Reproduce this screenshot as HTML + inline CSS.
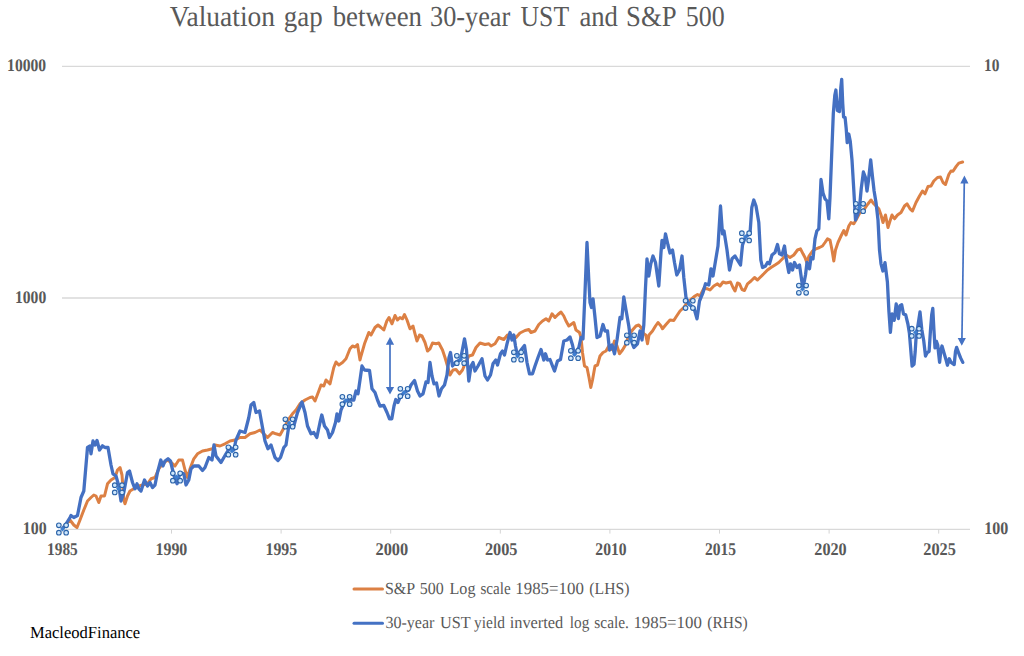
<!DOCTYPE html>
<html><head><meta charset="utf-8"><title>Valuation gap between 30-year UST and S&amp;P 500</title>
<style>
html,body{margin:0;padding:0;background:#fff;}
body{width:1024px;height:656px;overflow:hidden;font-family:"Liberation Serif",serif;}
svg{display:block;}
</style></head><body>
<svg width="1024" height="656" viewBox="0 0 1024 656" font-family="'Liberation Serif', serif">
<rect width="1024" height="656" fill="#fff"/>
<line x1="62" x2="970" y1="66.4" y2="66.4" stroke="#d9d9d9" stroke-width="1.3"/>
<line x1="62" x2="970" y1="298" y2="298" stroke="#d9d9d9" stroke-width="1.3"/>
<line x1="62" x2="970" y1="529.3" y2="529.3" stroke="#d9d9d9" stroke-width="1.3"/>
<line x1="61.9" x2="61.9" y1="529.3" y2="533.6" stroke="#d4d4d4" stroke-width="1"/>
<line x1="171.5" x2="171.5" y1="529.3" y2="533.6" stroke="#d4d4d4" stroke-width="1"/>
<line x1="281.1" x2="281.1" y1="529.3" y2="533.6" stroke="#d4d4d4" stroke-width="1"/>
<line x1="390.7" x2="390.7" y1="529.3" y2="533.6" stroke="#d4d4d4" stroke-width="1"/>
<line x1="500.3" x2="500.3" y1="529.3" y2="533.6" stroke="#d4d4d4" stroke-width="1"/>
<line x1="609.9" x2="609.9" y1="529.3" y2="533.6" stroke="#d4d4d4" stroke-width="1"/>
<line x1="719.5" x2="719.5" y1="529.3" y2="533.6" stroke="#d4d4d4" stroke-width="1"/>
<line x1="829.1" x2="829.1" y1="529.3" y2="533.6" stroke="#d4d4d4" stroke-width="1"/>
<line x1="938.7" x2="938.7" y1="529.3" y2="533.6" stroke="#d4d4d4" stroke-width="1"/>
<path d="M63.0,528.0 L66.0,524.0 L70.0,520.0 L73.8,525.0 L77.0,527.5 L80.0,520.0 L83.8,510.0 L87.5,501.0 L91.0,497.5 L93.8,495.0 L96.0,496.0 L98.8,502.5 L101.0,496.0 L104.5,496.0 L107.5,483.8 L111.0,480.0 L115.0,477.5 L117.5,470.0 L120.0,467.5 L122.0,475.0 L123.8,500.0 L125.0,503.8 L127.5,496.0 L130.0,491.0 L133.8,488.8 L138.8,486.0 L142.5,485.0 L147.5,483.8 L151.0,478.8 L155.0,477.5 L158.8,468.8 L162.5,463.8 L167.5,460.0 L171.0,462.5 L175.0,466.0 L178.8,460.0 L182.5,460.0 L185.0,470.0 L187.5,477.5 L190.0,468.8 L193.8,458.8 L197.5,453.8 L202.5,451.0 L207.5,450.0 L212.5,448.8 L215.0,445.0 L220.0,446.0 L225.0,443.8 L230.0,441.0 L235.0,440.0 L240.0,437.5 L245.0,437.5 L250.0,433.8 L255.0,432.5 L260.0,430.0 L265.0,435.0 L267.5,437.5 L270.0,435.0 L272.5,432.5 L276.0,433.8 L280.0,435.0 L285.0,426.0 L288.8,418.8 L292.5,413.8 L296.0,410.0 L300.0,403.8 L305.0,400.0 L310.0,397.5 L312.5,397.0 L315.0,401.0 L318.8,391.0 L321.0,385.0 L323.8,386.0 L326.0,380.0 L330.0,383.8 L333.8,367.5 L336.0,362.0 L338.8,365.0 L342.5,362.5 L346.0,358.8 L350.0,348.8 L352.5,346.0 L355.0,347.0 L357.5,344.5 L360.0,360.0 L361.0,356.0 L364.5,343.8 L368.8,332.5 L371.0,335.0 L375.0,327.5 L378.0,325.0 L381.0,327.5 L383.8,330.0 L386.8,321.0 L389.0,317.5 L392.0,323.8 L395.0,315.5 L397.5,320.0 L400.0,317.5 L402.5,318.8 L404.5,314.5 L407.0,320.0 L410.0,328.8 L413.0,326.0 L415.0,333.8 L417.0,341.0 L419.5,335.0 L422.0,336.0 L425.0,342.5 L427.5,351.0 L430.0,348.8 L432.5,343.0 L436.0,343.8 L438.8,343.0 L442.5,350.0 L445.0,357.5 L447.5,366.0 L450.0,375.0 L453.0,370.0 L456.0,369.5 L459.5,373.8 L462.5,370.0 L465.0,363.8 L468.8,356.0 L472.5,355.0 L476.0,347.5 L480.0,343.0 L485.0,344.5 L488.8,343.8 L491.0,346.0 L495.0,343.8 L498.8,337.5 L503.8,339.5 L507.5,335.0 L512.5,336.0 L516.0,337.5 L520.0,333.0 L525.0,330.5 L528.8,329.5 L531.0,332.5 L535.0,331.0 L538.8,324.5 L542.5,321.0 L546.0,318.8 L548.8,321.0 L552.0,313.8 L555.0,317.5 L558.0,314.5 L561.0,312.0 L563.8,316.0 L566.0,321.0 L568.8,326.0 L571.0,324.5 L573.8,322.5 L576.0,330.0 L579.5,332.5 L581.0,337.5 L582.5,352.5 L584.5,366.0 L587.0,367.5 L589.0,377.5 L590.8,387.5 L592.5,380.0 L595.0,366.0 L597.5,365.0 L600.0,356.0 L603.0,352.5 L606.0,351.0 L608.8,346.0 L612.0,349.5 L614.5,341.0 L617.0,346.0 L619.5,353.8 L622.5,350.0 L625.5,345.0 L628.8,335.0 L632.5,330.0 L636.0,326.0 L638.8,325.0 L641.0,327.5 L643.8,333.8 L645.8,335.0 L647.5,343.8 L649.0,335.0 L652.5,331.0 L655.5,326.0 L658.0,322.5 L661.0,326.0 L662.5,328.8 L666.0,324.5 L670.0,320.0 L673.8,320.5 L676.0,317.0 L680.0,311.0 L683.8,307.5 L687.5,302.5 L691.0,299.5 L695.0,296.0 L697.5,294.5 L700.0,296.0 L703.8,288.5 L707.5,288.8 L710.0,290.0 L713.8,286.0 L717.5,283.8 L720.0,286.0 L723.0,282.0 L726.0,283.0 L730.5,282.0 L733.0,287.5 L735.0,291.0 L737.5,283.0 L739.5,283.8 L742.0,289.5 L744.5,290.5 L747.5,283.8 L751.0,281.0 L754.5,277.5 L757.5,280.0 L760.0,277.5 L763.8,273.8 L767.5,270.0 L771.0,267.5 L775.0,265.0 L778.8,262.5 L782.5,258.8 L786.0,255.0 L790.0,257.5 L793.8,255.0 L797.5,250.0 L800.5,248.8 L803.0,253.8 L805.0,257.5 L806.8,262.5 L809.0,256.0 L812.5,251.0 L816.0,248.8 L819.5,247.5 L822.5,246.0 L825.0,242.5 L827.5,238.8 L830.0,240.0 L832.0,250.0 L833.8,261.0 L835.5,250.0 L838.0,242.5 L841.0,236.0 L843.8,230.5 L846.0,235.0 L848.8,226.0 L851.0,222.5 L853.8,223.8 L856.0,220.0 L860.0,212.5 L863.8,210.0 L867.5,204.5 L871.0,200.0 L873.8,203.8 L876.0,206.0 L878.8,208.8 L881.0,215.0 L883.0,222.5 L885.5,215.0 L888.0,227.5 L890.0,221.0 L892.0,215.0 L894.5,218.8 L897.5,215.0 L901.0,212.5 L904.5,206.0 L907.0,203.8 L910.0,208.8 L912.5,211.0 L916.0,202.5 L919.5,196.0 L922.5,191.0 L925.0,193.8 L928.0,186.5 L931.0,186.0 L933.8,181.0 L937.5,177.5 L940.5,177.0 L943.0,182.5 L945.5,184.5 L948.8,174.5 L951.0,171.0 L953.0,171.3 L956.2,166.4 L958.8,163.1 L962.6,162.0" fill="none" stroke="#dc8044" stroke-width="3.0" stroke-linejoin="round" stroke-linecap="round"/>
<path d="M62.5,528.8 L66.0,524.0 L70.0,517.5 L71.0,515.5 L73.8,517.5 L77.5,515.5 L81.0,497.5 L83.8,491.0 L87.5,447.5 L90.0,446.0 L91.0,453.8 L93.0,441.0 L95.0,445.0 L97.0,440.5 L99.5,450.0 L102.5,445.8 L105.0,447.5 L108.0,447.5 L111.0,465.0 L113.0,473.8 L116.0,476.0 L118.8,486.0 L121.0,501.0 L123.8,492.5 L127.5,472.5 L129.5,471.0 L132.5,482.5 L135.0,488.8 L137.0,483.8 L138.8,488.8 L141.0,491.0 L144.5,480.0 L147.5,486.0 L150.0,482.5 L152.5,487.5 L155.0,485.0 L157.5,472.5 L160.8,460.0 L163.0,466.0 L165.0,461.0 L168.0,458.8 L170.5,461.0 L173.8,475.0 L177.0,483.8 L180.0,472.5 L183.8,473.8 L186.0,485.0 L188.8,480.0 L191.0,468.8 L193.8,466.0 L198.8,466.0 L202.5,470.5 L205.0,467.5 L208.8,457.5 L212.0,460.0 L214.0,445.0 L216.0,456.0 L221.0,462.5 L226.0,453.8 L230.0,447.5 L233.8,450.0 L236.0,440.0 L240.0,431.0 L245.0,432.5 L248.8,417.5 L251.0,405.0 L253.8,402.5 L256.0,412.5 L259.5,411.0 L262.5,427.5 L265.0,441.0 L268.0,448.8 L271.0,445.0 L275.0,457.5 L278.0,460.5 L280.5,457.5 L283.8,447.5 L286.0,445.0 L288.8,426.0 L293.8,426.0 L297.5,412.5 L302.0,402.0 L305.0,412.5 L307.5,426.0 L311.0,433.8 L313.8,432.5 L316.8,437.5 L320.0,422.5 L321.8,415.0 L324.5,426.0 L327.5,430.0 L329.5,437.5 L332.5,432.5 L335.5,422.5 L337.0,413.8 L338.8,421.0 L341.0,410.0 L345.0,401.0 L350.0,400.0 L353.8,400.0 L356.0,391.0 L358.0,393.8 L360.0,380.0 L362.0,366.0 L364.5,370.0 L369.5,370.5 L372.0,388.8 L375.0,392.5 L377.5,400.0 L380.0,406.0 L383.8,405.5 L387.0,412.5 L389.5,418.8 L391.8,418.8 L394.0,406.0 L395.8,399.5 L398.0,402.5 L400.0,397.5 L404.0,392.5 L408.8,390.0 L411.0,385.0 L414.5,380.5 L417.5,391.0 L420.0,396.0 L423.0,393.8 L426.0,382.0 L428.0,382.5 L430.0,362.5 L432.0,376.0 L434.0,383.8 L436.5,383.0 L439.0,396.0 L441.5,388.8 L444.5,385.0 L447.0,375.0 L449.0,357.5 L450.5,352.5 L452.5,366.0 L455.5,362.5 L460.5,359.5 L464.5,338.8 L466.5,350.0 L468.8,381.0 L471.0,366.0 L473.0,362.5 L475.0,371.0 L478.0,366.0 L482.0,358.8 L485.0,376.0 L487.5,380.0 L490.5,375.0 L493.0,363.8 L495.8,360.0 L497.5,365.0 L500.5,353.8 L502.5,351.0 L504.5,355.0 L507.0,343.8 L510.0,332.5 L512.0,340.0 L513.8,335.0 L515.5,346.0 L517.5,356.0 L521.0,350.0 L524.5,345.5 L527.0,362.5 L529.5,373.8 L532.5,373.8 L535.0,366.0 L538.0,357.5 L541.0,349.5 L543.8,360.0 L545.5,353.8 L547.5,360.0 L550.0,359.5 L552.5,366.0 L554.5,371.0 L557.5,361.0 L560.5,359.5 L563.8,341.0 L567.0,340.0 L570.0,337.0 L572.5,345.0 L574.5,354.5 L578.8,347.5 L581.0,337.5 L583.0,338.8 L585.0,292.5 L587.0,242.5 L588.8,280.0 L590.0,302.5 L591.5,307.5 L593.0,298.8 L595.0,317.5 L597.0,337.5 L600.0,336.0 L603.0,324.5 L605.0,331.0 L607.5,331.0 L609.5,350.0 L612.0,345.0 L614.5,353.8 L617.0,340.0 L620.0,317.5 L621.8,318.8 L623.8,297.0 L626.0,310.0 L628.8,326.0 L630.5,339.0 L633.8,347.5 L637.5,343.8 L640.0,331.0 L642.0,340.0 L643.8,325.0 L645.5,287.5 L647.0,258.8 L648.8,276.0 L650.8,263.8 L653.0,256.0 L655.5,262.5 L658.8,286.0 L661.0,252.5 L662.0,240.5 L663.8,247.5 L665.5,233.8 L668.0,245.0 L670.0,253.0 L672.5,250.0 L674.5,262.5 L676.8,275.0 L679.5,270.0 L682.0,256.0 L683.8,277.5 L686.0,297.5 L689.2,304.4 L693.8,307.5 L697.0,318.8 L699.5,301.0 L703.0,292.5 L705.5,283.8 L708.8,285.0 L711.0,268.8 L713.0,276.0 L715.5,261.0 L718.0,246.0 L720.5,206.0 L722.5,233.8 L724.0,231.0 L727.0,250.0 L729.5,270.0 L732.0,258.8 L735.0,256.0 L738.0,261.0 L740.5,265.0 L742.5,245.0 L745.5,236.8 L750.0,233.8 L751.8,207.5 L753.8,200.0 L756.0,206.0 L758.8,222.5 L760.8,260.0 L762.5,267.5 L765.5,266.0 L767.5,262.5 L769.5,263.8 L772.0,255.0 L775.0,252.5 L777.5,244.5 L779.5,253.8 L782.0,255.0 L784.5,246.0 L786.0,257.5 L788.8,272.5 L790.5,263.8 L792.5,270.0 L794.5,262.5 L797.0,267.5 L799.5,265.0 L802.0,282.5 L803.0,288.0 L805.5,275.0 L807.0,262.5 L809.5,268.8 L811.0,257.5 L813.0,258.8 L815.0,238.8 L816.8,231.0 L818.8,228.8 L820.0,202.5 L821.0,179.5 L823.0,193.0 L825.0,198.8 L827.0,201.0 L828.8,218.8 L830.0,197.5 L831.6,156.7 L833.3,113.7 L834.8,95.4 L835.9,90.0 L837.4,110.5 L839.5,111.6 L840.8,88.0 L841.7,79.3 L842.7,103.0 L843.6,117.0 L845.1,117.6 L846.2,128.7 L847.2,142.7 L848.8,134.0 L850.3,141.6 L852.0,160.0 L853.8,190.0 L855.5,220.0 L857.5,215.0 L859.5,207.5 L861.2,189.0 L863.4,172.0 L865.3,177.0 L867.0,191.0 L868.5,180.3 L870.7,160.0 L872.4,176.0 L874.1,191.0 L876.0,202.5 L878.0,220.0 L879.5,250.0 L881.0,263.8 L882.9,271.0 L885.0,262.7 L887.4,282.0 L888.9,311.2 L890.4,332.3 L892.0,314.0 L894.2,320.4 L896.2,303.9 L898.4,318.5 L899.9,305.7 L901.7,304.8 L903.5,314.0 L905.7,314.9 L907.9,324.0 L909.4,333.2 L910.9,351.5 L912.1,366.0 L914.0,364.3 L915.2,351.5 L916.4,332.3 L917.6,327.7 L920.0,312.0 L921.8,329.5 L923.7,340.5 L925.5,356.0 L927.3,352.4 L929.1,351.5 L930.4,331.3 L931.7,314.9 L932.8,308.5 L933.9,329.5 L935.0,347.8 L936.5,341.4 L937.7,345.0 L939.6,362.4 L941.0,349.6 L942.0,346.0 L944.1,353.3 L946.0,359.7 L947.4,365.2 L949.3,358.8 L951.1,362.4 L954.2,364.6 L955.5,351.5 L956.6,347.4 L958.8,353.3 L960.6,357.9 L962.8,362.4" fill="none" stroke="#4470c2" stroke-width="3.3" stroke-linejoin="round" stroke-linecap="round"/>
<g transform="translate(62.5,529.0)"><path d="M0,-2.4 L2.4,0 L0,2.4 L-2.4,0z" fill="#3d7fd0"/><circle cx="-3.65" cy="-3.65" r="2.3" fill="#cfe7fc" stroke="#2c64aa" stroke-width="1.1"/><circle cx="3.65" cy="-3.65" r="2.3" fill="#cfe7fc" stroke="#2c64aa" stroke-width="1.1"/><circle cx="-3.65" cy="3.65" r="2.3" fill="#cfe7fc" stroke="#2c64aa" stroke-width="1.1"/><circle cx="3.65" cy="3.65" r="2.3" fill="#cfe7fc" stroke="#2c64aa" stroke-width="1.1"/></g>
<g transform="translate(118.4,488.8)"><path d="M0,-2.4 L2.4,0 L0,2.4 L-2.4,0z" fill="#3d7fd0"/><circle cx="-3.65" cy="-3.65" r="2.3" fill="#cfe7fc" stroke="#2c64aa" stroke-width="1.1"/><circle cx="3.65" cy="-3.65" r="2.3" fill="#cfe7fc" stroke="#2c64aa" stroke-width="1.1"/><circle cx="-3.65" cy="3.65" r="2.3" fill="#cfe7fc" stroke="#2c64aa" stroke-width="1.1"/><circle cx="3.65" cy="3.65" r="2.3" fill="#cfe7fc" stroke="#2c64aa" stroke-width="1.1"/></g>
<g transform="translate(176.5,477.0)"><path d="M0,-2.4 L2.4,0 L0,2.4 L-2.4,0z" fill="#3d7fd0"/><circle cx="-3.65" cy="-3.65" r="2.3" fill="#cfe7fc" stroke="#2c64aa" stroke-width="1.1"/><circle cx="3.65" cy="-3.65" r="2.3" fill="#cfe7fc" stroke="#2c64aa" stroke-width="1.1"/><circle cx="-3.65" cy="3.65" r="2.3" fill="#cfe7fc" stroke="#2c64aa" stroke-width="1.1"/><circle cx="3.65" cy="3.65" r="2.3" fill="#cfe7fc" stroke="#2c64aa" stroke-width="1.1"/></g>
<g transform="translate(232.0,451.0)"><path d="M0,-2.4 L2.4,0 L0,2.4 L-2.4,0z" fill="#3d7fd0"/><circle cx="-3.65" cy="-3.65" r="2.3" fill="#cfe7fc" stroke="#2c64aa" stroke-width="1.1"/><circle cx="3.65" cy="-3.65" r="2.3" fill="#cfe7fc" stroke="#2c64aa" stroke-width="1.1"/><circle cx="-3.65" cy="3.65" r="2.3" fill="#cfe7fc" stroke="#2c64aa" stroke-width="1.1"/><circle cx="3.65" cy="3.65" r="2.3" fill="#cfe7fc" stroke="#2c64aa" stroke-width="1.1"/></g>
<g transform="translate(289.0,423.0)"><path d="M0,-2.4 L2.4,0 L0,2.4 L-2.4,0z" fill="#3d7fd0"/><circle cx="-3.65" cy="-3.65" r="2.3" fill="#cfe7fc" stroke="#2c64aa" stroke-width="1.1"/><circle cx="3.65" cy="-3.65" r="2.3" fill="#cfe7fc" stroke="#2c64aa" stroke-width="1.1"/><circle cx="-3.65" cy="3.65" r="2.3" fill="#cfe7fc" stroke="#2c64aa" stroke-width="1.1"/><circle cx="3.65" cy="3.65" r="2.3" fill="#cfe7fc" stroke="#2c64aa" stroke-width="1.1"/></g>
<g transform="translate(346.0,400.5)"><path d="M0,-2.4 L2.4,0 L0,2.4 L-2.4,0z" fill="#3d7fd0"/><circle cx="-3.65" cy="-3.65" r="2.3" fill="#cfe7fc" stroke="#2c64aa" stroke-width="1.1"/><circle cx="3.65" cy="-3.65" r="2.3" fill="#cfe7fc" stroke="#2c64aa" stroke-width="1.1"/><circle cx="-3.65" cy="3.65" r="2.3" fill="#cfe7fc" stroke="#2c64aa" stroke-width="1.1"/><circle cx="3.65" cy="3.65" r="2.3" fill="#cfe7fc" stroke="#2c64aa" stroke-width="1.1"/></g>
<g transform="translate(404.0,392.5)"><path d="M0,-2.4 L2.4,0 L0,2.4 L-2.4,0z" fill="#3d7fd0"/><circle cx="-3.65" cy="-3.65" r="2.3" fill="#cfe7fc" stroke="#2c64aa" stroke-width="1.1"/><circle cx="3.65" cy="-3.65" r="2.3" fill="#cfe7fc" stroke="#2c64aa" stroke-width="1.1"/><circle cx="-3.65" cy="3.65" r="2.3" fill="#cfe7fc" stroke="#2c64aa" stroke-width="1.1"/><circle cx="3.65" cy="3.65" r="2.3" fill="#cfe7fc" stroke="#2c64aa" stroke-width="1.1"/></g>
<g transform="translate(460.5,359.5)"><path d="M0,-2.4 L2.4,0 L0,2.4 L-2.4,0z" fill="#3d7fd0"/><circle cx="-3.65" cy="-3.65" r="2.3" fill="#cfe7fc" stroke="#2c64aa" stroke-width="1.1"/><circle cx="3.65" cy="-3.65" r="2.3" fill="#cfe7fc" stroke="#2c64aa" stroke-width="1.1"/><circle cx="-3.65" cy="3.65" r="2.3" fill="#cfe7fc" stroke="#2c64aa" stroke-width="1.1"/><circle cx="3.65" cy="3.65" r="2.3" fill="#cfe7fc" stroke="#2c64aa" stroke-width="1.1"/></g>
<g transform="translate(517.5,356.0)"><path d="M0,-2.4 L2.4,0 L0,2.4 L-2.4,0z" fill="#3d7fd0"/><circle cx="-3.65" cy="-3.65" r="2.3" fill="#cfe7fc" stroke="#2c64aa" stroke-width="1.1"/><circle cx="3.65" cy="-3.65" r="2.3" fill="#cfe7fc" stroke="#2c64aa" stroke-width="1.1"/><circle cx="-3.65" cy="3.65" r="2.3" fill="#cfe7fc" stroke="#2c64aa" stroke-width="1.1"/><circle cx="3.65" cy="3.65" r="2.3" fill="#cfe7fc" stroke="#2c64aa" stroke-width="1.1"/></g>
<g transform="translate(574.5,354.5)"><path d="M0,-2.4 L2.4,0 L0,2.4 L-2.4,0z" fill="#3d7fd0"/><circle cx="-3.65" cy="-3.65" r="2.3" fill="#cfe7fc" stroke="#2c64aa" stroke-width="1.1"/><circle cx="3.65" cy="-3.65" r="2.3" fill="#cfe7fc" stroke="#2c64aa" stroke-width="1.1"/><circle cx="-3.65" cy="3.65" r="2.3" fill="#cfe7fc" stroke="#2c64aa" stroke-width="1.1"/><circle cx="3.65" cy="3.65" r="2.3" fill="#cfe7fc" stroke="#2c64aa" stroke-width="1.1"/></g>
<g transform="translate(630.5,339.0)"><path d="M0,-2.4 L2.4,0 L0,2.4 L-2.4,0z" fill="#3d7fd0"/><circle cx="-3.65" cy="-3.65" r="2.3" fill="#cfe7fc" stroke="#2c64aa" stroke-width="1.1"/><circle cx="3.65" cy="-3.65" r="2.3" fill="#cfe7fc" stroke="#2c64aa" stroke-width="1.1"/><circle cx="-3.65" cy="3.65" r="2.3" fill="#cfe7fc" stroke="#2c64aa" stroke-width="1.1"/><circle cx="3.65" cy="3.65" r="2.3" fill="#cfe7fc" stroke="#2c64aa" stroke-width="1.1"/></g>
<g transform="translate(689.2,304.4)"><path d="M0,-2.4 L2.4,0 L0,2.4 L-2.4,0z" fill="#3d7fd0"/><circle cx="-3.65" cy="-3.65" r="2.3" fill="#cfe7fc" stroke="#2c64aa" stroke-width="1.1"/><circle cx="3.65" cy="-3.65" r="2.3" fill="#cfe7fc" stroke="#2c64aa" stroke-width="1.1"/><circle cx="-3.65" cy="3.65" r="2.3" fill="#cfe7fc" stroke="#2c64aa" stroke-width="1.1"/><circle cx="3.65" cy="3.65" r="2.3" fill="#cfe7fc" stroke="#2c64aa" stroke-width="1.1"/></g>
<g transform="translate(745.5,236.8)"><path d="M0,-2.4 L2.4,0 L0,2.4 L-2.4,0z" fill="#3d7fd0"/><circle cx="-3.65" cy="-3.65" r="2.3" fill="#cfe7fc" stroke="#2c64aa" stroke-width="1.1"/><circle cx="3.65" cy="-3.65" r="2.3" fill="#cfe7fc" stroke="#2c64aa" stroke-width="1.1"/><circle cx="-3.65" cy="3.65" r="2.3" fill="#cfe7fc" stroke="#2c64aa" stroke-width="1.1"/><circle cx="3.65" cy="3.65" r="2.3" fill="#cfe7fc" stroke="#2c64aa" stroke-width="1.1"/></g>
<g transform="translate(802.5,289.2)"><path d="M0,-2.4 L2.4,0 L0,2.4 L-2.4,0z" fill="#3d7fd0"/><circle cx="-3.65" cy="-3.65" r="2.3" fill="#cfe7fc" stroke="#2c64aa" stroke-width="1.1"/><circle cx="3.65" cy="-3.65" r="2.3" fill="#cfe7fc" stroke="#2c64aa" stroke-width="1.1"/><circle cx="-3.65" cy="3.65" r="2.3" fill="#cfe7fc" stroke="#2c64aa" stroke-width="1.1"/><circle cx="3.65" cy="3.65" r="2.3" fill="#cfe7fc" stroke="#2c64aa" stroke-width="1.1"/></g>
<g transform="translate(859.5,207.5)"><path d="M0,-2.4 L2.4,0 L0,2.4 L-2.4,0z" fill="#3d7fd0"/><circle cx="-3.65" cy="-3.65" r="2.3" fill="#cfe7fc" stroke="#2c64aa" stroke-width="1.1"/><circle cx="3.65" cy="-3.65" r="2.3" fill="#cfe7fc" stroke="#2c64aa" stroke-width="1.1"/><circle cx="-3.65" cy="3.65" r="2.3" fill="#cfe7fc" stroke="#2c64aa" stroke-width="1.1"/><circle cx="3.65" cy="3.65" r="2.3" fill="#cfe7fc" stroke="#2c64aa" stroke-width="1.1"/></g>
<g transform="translate(915.4,332.3)"><path d="M0,-2.4 L2.4,0 L0,2.4 L-2.4,0z" fill="#3d7fd0"/><circle cx="-3.65" cy="-3.65" r="2.3" fill="#cfe7fc" stroke="#2c64aa" stroke-width="1.1"/><circle cx="3.65" cy="-3.65" r="2.3" fill="#cfe7fc" stroke="#2c64aa" stroke-width="1.1"/><circle cx="-3.65" cy="3.65" r="2.3" fill="#cfe7fc" stroke="#2c64aa" stroke-width="1.1"/><circle cx="3.65" cy="3.65" r="2.3" fill="#cfe7fc" stroke="#2c64aa" stroke-width="1.1"/></g>
<g stroke="#4472c4" fill="#4472c4" stroke-width="1.7"><line x1="390" y1="343" x2="390" y2="389"/><path d="M390,336.9 l-4.1,7.8 h8.2z M390,394.5 l-4.1,-7.6 h8.2z" stroke="none"/><line x1="964.3" y1="182" x2="961.9" y2="340"/><path d="M964.4,175.5 l-4.1,8 h8.2z M961.8,345.8 l-4.1,-7.8 h8.2z" stroke="none"/></g>
<line x1="354" x2="382.5" y1="589" y2="589" stroke="#dc8044" stroke-width="3" stroke-linecap="round"/>
<line x1="354" x2="382.5" y1="623.3" y2="623.3" stroke="#4472c4" stroke-width="3" stroke-linecap="round"/>
<text text-rendering="geometricPrecision" transform="translate(169.76,25.8) scale(0.9466,1)" font-size="29" fill="#595959">Valuation</text>
<text text-rendering="geometricPrecision" transform="translate(283.74,25.8) scale(0.9291,1)" font-size="29" fill="#595959">gap</text>
<text text-rendering="geometricPrecision" transform="translate(332.70,25.8) scale(0.9236,1)" font-size="29" fill="#595959">between</text>
<text text-rendering="geometricPrecision" transform="translate(430.04,25.8) scale(0.9049,1)" font-size="29" fill="#595959">30-year</text>
<text text-rendering="geometricPrecision" transform="translate(520.56,25.8) scale(0.8856,1)" font-size="29" fill="#595959">UST</text>
<text text-rendering="geometricPrecision" transform="translate(579.48,25.8) scale(0.9185,1)" font-size="29" fill="#595959">and</text>
<text text-rendering="geometricPrecision" transform="translate(626.06,25.8) scale(0.9217,1)" font-size="29" fill="#595959">S&amp;P</text>
<text text-rendering="geometricPrecision" transform="translate(685.84,25.8) scale(0.8933,1)" font-size="29" fill="#595959">500</text>
<text text-rendering="geometricPrecision" transform="translate(7.08,71.0) scale(0.8781,1)" font-size="17.8" fill="#595959" font-weight="bold">10000</text>
<text text-rendering="geometricPrecision" transform="translate(14.98,302.7) scale(0.8776,1)" font-size="17.8" fill="#595959" font-weight="bold">1000</text>
<text text-rendering="geometricPrecision" transform="translate(22.86,534.4) scale(0.8939,1)" font-size="17.8" fill="#595959" font-weight="bold">100</text>
<text text-rendering="geometricPrecision" transform="translate(984.10,71.0) scale(0.8645,1)" font-size="17.8" fill="#595959" font-weight="bold">10</text>
<text text-rendering="geometricPrecision" transform="translate(984.15,534.4) scale(0.9020,1)" font-size="17.8" fill="#595959" font-weight="bold">100</text>
<text text-rendering="geometricPrecision" transform="translate(47.00,554.8) scale(0.8657,1)" font-size="17.8" fill="#595959" font-weight="bold">1985</text>
<text text-rendering="geometricPrecision" transform="translate(155.46,554.8) scale(0.8955,1)" font-size="17.8" fill="#595959" font-weight="bold">1990</text>
<text text-rendering="geometricPrecision" transform="translate(265.47,554.8) scale(0.8896,1)" font-size="17.8" fill="#595959" font-weight="bold">1995</text>
<text text-rendering="geometricPrecision" transform="translate(375.51,554.8) scale(0.9197,1)" font-size="17.8" fill="#595959" font-weight="bold">2000</text>
<text text-rendering="geometricPrecision" transform="translate(484.91,554.8) scale(0.9168,1)" font-size="17.8" fill="#595959" font-weight="bold">2005</text>
<text text-rendering="geometricPrecision" transform="translate(595.34,554.8) scale(0.8788,1)" font-size="17.8" fill="#595959" font-weight="bold">2010</text>
<text text-rendering="geometricPrecision" transform="translate(704.95,554.8) scale(0.8730,1)" font-size="17.8" fill="#595959" font-weight="bold">2015</text>
<text text-rendering="geometricPrecision" transform="translate(814.32,554.8) scale(0.9109,1)" font-size="17.8" fill="#595959" font-weight="bold">2020</text>
<text text-rendering="geometricPrecision" transform="translate(923.31,554.8) scale(0.9168,1)" font-size="17.8" fill="#595959" font-weight="bold">2025</text>
<text text-rendering="geometricPrecision" transform="translate(384.93,593.7) scale(0.9388,1)" font-size="17" fill="#595959">S&amp;P</text>
<text text-rendering="geometricPrecision" transform="translate(419.86,593.7) scale(0.9389,1)" font-size="17" fill="#595959">500</text>
<text text-rendering="geometricPrecision" transform="translate(449.53,593.7) scale(0.9472,1)" font-size="17" fill="#595959">Log</text>
<text text-rendering="geometricPrecision" transform="translate(480.43,593.7) scale(0.8916,1)" font-size="17" fill="#595959">scale</text>
<text text-rendering="geometricPrecision" transform="translate(515.31,593.7) scale(0.9925,1)" font-size="17" fill="#595959">1985=100</text>
<text text-rendering="geometricPrecision" transform="translate(589.31,593.7) scale(0.9238,1)" font-size="17" fill="#595959">(LHS)</text>
<text text-rendering="geometricPrecision" transform="translate(385.39,628.0) scale(0.9431,1)" font-size="17" fill="#595959">30-year</text>
<text text-rendering="geometricPrecision" transform="translate(440.06,628.0) scale(0.9556,1)" font-size="17" fill="#595959">UST</text>
<text text-rendering="geometricPrecision" transform="translate(474.07,628.0) scale(0.9075,1)" font-size="17" fill="#595959">yield</text>
<text text-rendering="geometricPrecision" transform="translate(509.66,628.0) scale(0.9629,1)" font-size="17" fill="#595959">inverted</text>
<text text-rendering="geometricPrecision" transform="translate(569.78,628.0) scale(0.8988,1)" font-size="17" fill="#595959">log</text>
<text text-rendering="geometricPrecision" transform="translate(594.32,628.0) scale(0.9048,1)" font-size="17" fill="#595959">scale.</text>
<text text-rendering="geometricPrecision" transform="translate(633.42,628.0) scale(0.9896,1)" font-size="17" fill="#595959">1985=100</text>
<text text-rendering="geometricPrecision" transform="translate(707.22,628.0) scale(0.9116,1)" font-size="17" fill="#595959">(RHS)</text>
<text text-rendering="geometricPrecision" transform="translate(29.91,637.7) scale(0.9737,1)" font-size="17" fill="#000">MacleodFinance</text>
</svg>
</body></html>
